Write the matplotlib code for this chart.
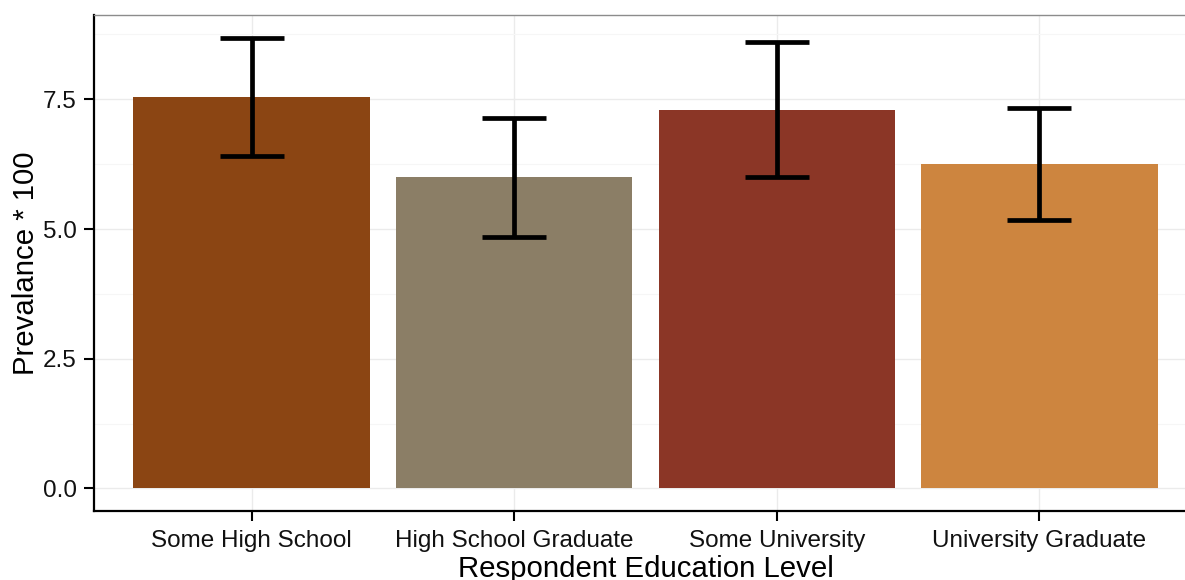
import matplotlib
matplotlib.use("Agg")
import matplotlib.pyplot as plt
from matplotlib.ticker import MultipleLocator, FormatStrFormatter

plt.rcParams['font.family'] = ['Liberation Sans', 'DejaVu Sans']

categories = ["Some High School", "High School Graduate", "Some University", "University Graduate"]
prevalence = [7.54, 6.00, 7.30, 6.25]
ci_low = [6.40, 4.85, 6.00, 5.17]
ci_high = [8.69, 7.14, 8.60, 7.34]
bar_colors = ["#8B4513", "#8B7E66", "#8B3626", "#CD853F"]

fig = plt.figure(figsize=(11.85, 5.8), dpi=100)
# panel runs slightly past the right edge of the canvas
ax = fig.add_axes([94 / 1185, 1 - 511 / 580, 1103 / 1185, (511 - 15) / 580])

x = list(range(1, len(categories) + 1))
ax.bar(x, prevalence, width=0.9, color=bar_colors, zorder=2)

err_lo = [p - lo for p, lo in zip(prevalence, ci_low)]
err_hi = [hi - p for p, hi in zip(prevalence, ci_high)]
ax.errorbar(x, prevalence, yerr=[err_lo, err_hi], fmt="none", ecolor="black",
            elinewidth=3.4, capsize=23, capthick=3.4, zorder=3)

ax.set_xlim(0.4, 4.6)
ymax = max(ci_high)
ax.set_ylim(-0.05 * ymax, ymax * 1.05)

ax.set_xticks(x)
ax.set_xticklabels(categories)
ax.yaxis.set_major_locator(MultipleLocator(2.5))
ax.yaxis.set_minor_locator(MultipleLocator(1.25))
ax.yaxis.set_major_formatter(FormatStrFormatter("%.1f"))

ax.grid(which="major", color="#EBEBEB", linewidth=1.0, zorder=0)
ax.grid(which="minor", axis="y", color="#F6F6F6", linewidth=0.8, zorder=0)
ax.set_axisbelow(True)

for side in ("left", "bottom"):
    ax.spines[side].set_color("black")
    ax.spines[side].set_linewidth(1.6)
ax.spines["top"].set_color("#8C8C8C")
ax.spines["top"].set_linewidth(1.0)
ax.spines["right"].set_visible(False)

ax.tick_params(axis="both", which="major", length=7, width=1.5, color="black",
               labelsize=17.5, labelcolor="#111111")
ax.tick_params(axis="x", which="major", pad=6.5)
ax.tick_params(axis="y", which="major", pad=5.5)
ax.tick_params(axis="y", which="minor", length=0)

ax.set_xlabel("Respondent Education Level", fontsize=21.2, labelpad=2.5)
ax.set_ylabel("Prevalance * 100", fontsize=21.2, labelpad=2)

fig.savefig("out.png", dpi=100)
